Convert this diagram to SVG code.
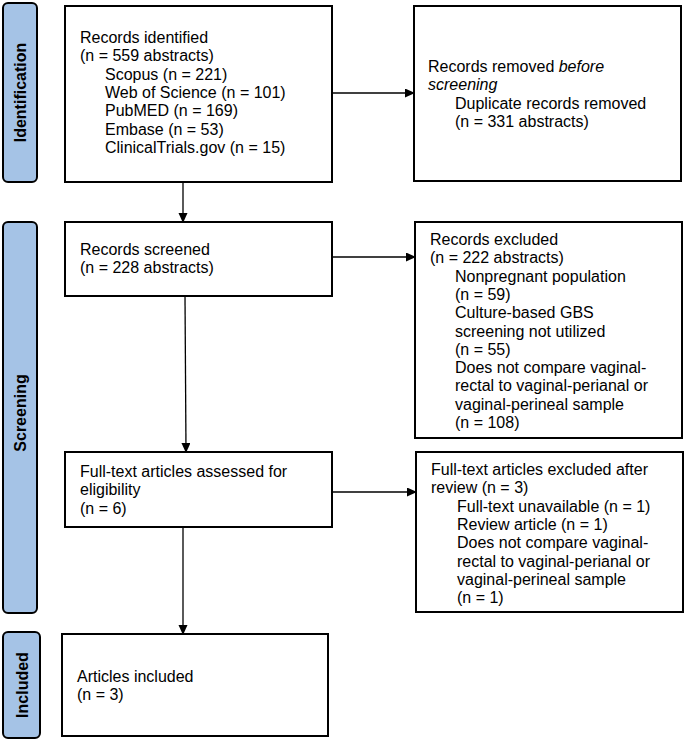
<svg xmlns="http://www.w3.org/2000/svg" width="685" height="740" viewBox="0 0 685 740">
<defs>
<style>
.box{fill:#fff;stroke:#000;stroke-width:2}
.bar{fill:#a5c3e6;stroke:#000;stroke-width:2}
.t{font-family:"Liberation Sans",Arial,sans-serif;font-size:16px;fill:#000}
.lab{font-family:"Liberation Sans",Arial,sans-serif;font-size:16px;font-weight:bold;fill:#000;text-anchor:middle}
.c{stroke:#000;stroke-width:1.3;fill:none}
</style>
<marker id="ah" markerWidth="10" markerHeight="10" refX="9" refY="4.5" orient="auto" markerUnits="userSpaceOnUse">
<path d="M0,0 L10,4.5 L0,9 Z" fill="#000"/>
</marker>
</defs>
<rect width="685" height="740" fill="#fff"/>
<g id="bar-identification">
<rect class="bar" x="3" y="3" width="34" height="179" rx="5"/>
<text class="lab" transform="translate(26,92.5) rotate(-90)">Identification</text>
</g>
<g id="bar-screening">
<rect class="bar" x="3" y="222" width="34" height="391" rx="5"/>
<text class="lab" transform="translate(26,413) rotate(-90)">Screening</text>
</g>
<g id="bar-included">
<rect class="bar" x="3" y="632" width="37" height="106" rx="5"/>
<text class="lab" transform="translate(28,685) rotate(-90)">Included</text>
</g>
<g id="connectors">
<line class="c" x1="332" y1="93" x2="414" y2="93" marker-end="url(#ah)"/>
<line class="c" x1="183" y1="182" x2="183" y2="222" marker-end="url(#ah)"/>
<line class="c" x1="332" y1="257" x2="415" y2="257" marker-end="url(#ah)"/>
<line class="c" x1="185" y1="296" x2="186" y2="452" marker-end="url(#ah)"/>
<line class="c" x1="332" y1="492" x2="416" y2="492" marker-end="url(#ah)"/>
<line class="c" x1="183" y1="527" x2="183" y2="634" marker-end="url(#ah)"/>
</g>
<g id="records-identified">
<rect class="box" x="65" y="6" width="267" height="176"/>
<text class="t" x="80" y="43">Records identified</text>
<text class="t" x="80" y="61.3">(n = 559 abstracts)</text>
<text class="t" x="105" y="79.6">Scopus (n = 221)</text>
<text class="t" x="105" y="97.9">Web of Science (n = 101)</text>
<text class="t" x="105" y="116.2">PubMED (n = 169)</text>
<text class="t" x="105" y="134.5">Embase (n = 53)</text>
<text class="t" x="105" y="152.8">ClinicalTrials.gov (n = 15)</text>
</g>
<g id="records-removed">
<rect class="box" x="414" y="6" width="267" height="175"/>
<text class="t" x="428" y="72">Records removed <tspan font-style="italic">before</tspan></text>
<text class="t" x="428" y="90.3" font-style="italic">screening</text>
<text class="t" x="455" y="108.6">Duplicate records removed</text>
<text class="t" x="455" y="126.9">(n = 331 abstracts)</text>
</g>
<g id="records-screened">
<rect class="box" x="65" y="222" width="267" height="74"/>
<text class="t" x="80" y="255">Records screened</text>
<text class="t" x="80" y="273.3">(n = 228 abstracts)</text>
</g>
<g id="records-excluded">
<rect class="box" x="415" y="222" width="267" height="216"/>
<text class="t" x="430" y="245">Records excluded</text>
<text class="t" x="430" y="263.3">(n = 222 abstracts)</text>
<text class="t" x="455" y="281.6">Nonpregnant population</text>
<text class="t" x="455" y="299.9">(n = 59)</text>
<text class="t" x="455" y="318.2">Culture-based GBS</text>
<text class="t" x="455" y="336.5">screening not utilized</text>
<text class="t" x="455" y="354.8">(n = 55)</text>
<text class="t" x="455" y="373.1">Does not compare vaginal-</text>
<text class="t" x="455" y="391.4">rectal to vaginal-perianal or</text>
<text class="t" x="455" y="409.7">vaginal-perineal sample</text>
<text class="t" x="455" y="428">(n = 108)</text>
</g>
<g id="fulltext-assessed">
<rect class="box" x="65" y="452" width="267" height="75"/>
<text class="t" x="80" y="477">Full-text articles assessed for</text>
<text class="t" x="80" y="495.3">eligibility</text>
<text class="t" x="80" y="513.6">(n = 6)</text>
</g>
<g id="fulltext-excluded">
<rect class="box" x="416" y="452" width="267" height="160"/>
<text class="t" x="431" y="475">Full-text articles excluded after</text>
<text class="t" x="431" y="493.3">review (n = 3)</text>
<text class="t" x="457" y="511.6">Full-text unavailable (n = 1)</text>
<text class="t" x="457" y="529.9">Review article (n = 1)</text>
<text class="t" x="457" y="548.2">Does not compare vaginal-</text>
<text class="t" x="457" y="566.5">rectal to vaginal-perianal or</text>
<text class="t" x="457" y="584.8">vaginal-perineal sample</text>
<text class="t" x="457" y="603.1">(n = 1)</text>
</g>
<g id="articles-included">
<rect class="box" x="62" y="634" width="266" height="102"/>
<text class="t" x="77" y="682">Articles included</text>
<text class="t" x="77" y="700.3">(n = 3)</text>
</g>
</svg>
